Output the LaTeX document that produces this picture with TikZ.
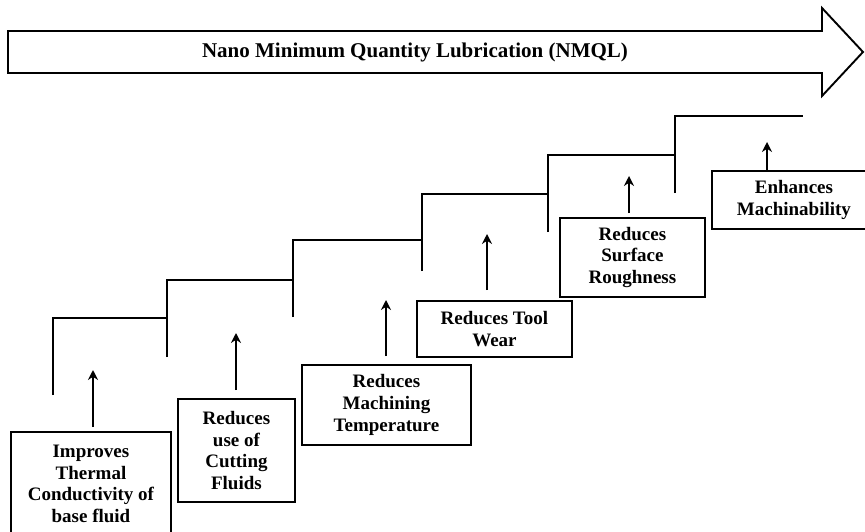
\documentclass[tikz,border=0pt]{standalone}
\usepackage{fontspec}
\setmainfont{Liberation Serif}
\usetikzlibrary{arrows.meta}

\begin{document}
\begin{tikzpicture}[x=1pt,y=-1pt,
    box/.style={draw,line width=1.9pt,anchor=north west,inner sep=0pt,align=center,
      font=\bfseries\fontsize{19}{21.7}\selectfont},
    arr/.style={-{Stealth[length=10pt,width=10pt]},line width=1.9pt},
    stair/.style={line width=1.9pt}]
    \useasboundingbox (0,0) rectangle (865,532);

    % banner arrow
    \draw[line width=1.9pt] (8,31) -- (822,31) -- (822,8) -- (863,52) -- (822,96) -- (822,73) -- (8,73) -- cycle;
    \node[font=\bfseries\fontsize{21}{25}\selectfont] (title) at (415,52) {Nano Minimum Quantity Lubrication (NMQL)};

    % staircase
    \foreach \x/\t/\b/\n in {53/318/395/167, 167/280/357/293, 293/240/317/422,
                             422/194/271/548, 548/155/232/675, 675/116/193/803}
      \draw[stair] (\x,\b) -- (\x,\t) -- (\n,\t);

    % boxes
    \node[box,minimum width=160pt,minimum height=104pt] (b1) at (10,431) {Improves\\Thermal\\Conductivity of\\base fluid};
    \node[box,minimum width=117pt,minimum height=103pt] (b2) at (177,398) {Reduces\\use of\\Cutting\\Fluids};
    \node[box,minimum width=169pt,minimum height=80pt] (b3) at (301,364) {Reduces\\Machining\\Temperature};
    \node[box,minimum width=155pt,minimum height=56pt] (b4) at (416,300) {Reduces Tool\\Wear};
    \node[box,minimum width=145pt,minimum height=79pt] (b5) at (559,217) {Reduces\\Surface\\Roughness};
    \node[box,minimum width=164pt,minimum height=58pt] (b6) at (711,170) {Enhances\\Machinability};

    % arrows
    \foreach \b/\x/\y/\g in {b1/93/370/4, b2/236/333/8, b3/386/300/8,
                             b4/487/234/10, b5/629/176/4, b6/767/142/0} {
      \coordinate (tip\b) at (\x,\y);
      \draw[arr] ([yshift=\g pt]tip\b |- \b.north) -- (tip\b);
    }
\end{tikzpicture}
\end{document}
